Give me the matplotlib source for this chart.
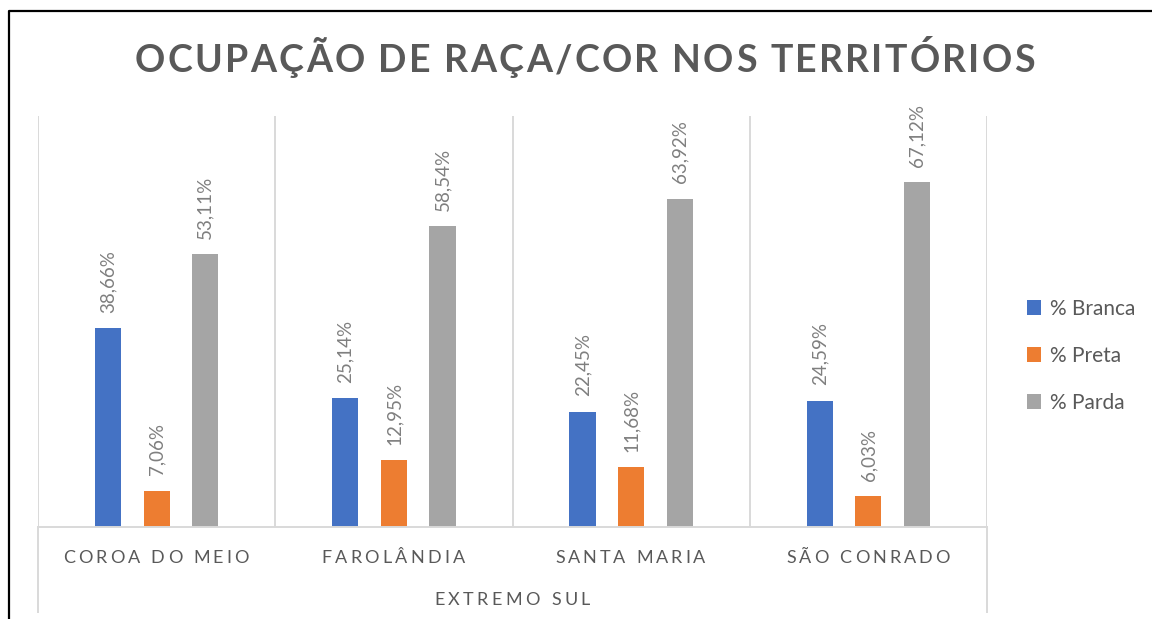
import numpy as np
import matplotlib.pyplot as plt
from matplotlib.lines import Line2D
from matplotlib.transforms import IdentityTransform

# dados do gráfico
categorias = ["COROA DO MEIO", "FAROLÂNDIA", "SANTA MARIA", "SÃO CONRADO"]
grupo = "EXTREMO SUL"
titulo = "OCUPAÇÃO DE RAÇA/COR NOS TERRITÓRIOS"
series = ["% Branca", "% Preta", "% Parda"]
branca = [38.66, 25.14, 22.45, 24.59]
preta = [7.06, 12.95, 11.68, 6.03]
parda = [53.11, 58.54, 63.92, 67.12]

cores = ["#4472C4", "#ED7D31", "#A5A5A5"]
cinza_texto = "#595959"
cinza_grade = "#D9D9D9"
fonte = "Lato"

W, H = 1152, 619
fig = plt.figure(figsize=(W / 100, H / 100), dpi=100)
ax = fig.add_axes([38 / W, (H - 527) / H, (987 - 38) / W, (527 - 116) / H])

x = np.arange(len(categorias))
largura = 0.11
deslocamentos = [-0.205, 0, 0.205]

for valores, nome, cor, dx in zip([branca, preta, parda], series, cores, deslocamentos):
    barras = ax.bar(x + dx, valores, width=largura, color=cor, label=nome, zorder=2)
    for b, v in zip(barras, valores):
        rotulo = f"{v:.2f}%".replace(".", ",")
        ax.annotate(rotulo, (b.get_x() + b.get_width() / 2, v), xytext=(0, 11),
                    textcoords="offset points", rotation=90, ha="center", va="bottom",
                    fontsize=13.5, color="#7F7F7F", family=fonte)

ax.set_xlim(-0.5, len(categorias) - 0.5)
ax.set_ylim(0, 80)
for xv in np.arange(-0.5, len(categorias), 1.0):
    ax.axvline(xv, color=cinza_grade, lw=1.4, zorder=1)
for s in ["top", "right", "left"]:
    ax.spines[s].set_visible(False)
ax.spines["bottom"].set_color(cinza_grade)
ax.spines["bottom"].set_linewidth(1.4)
ax.set_xticks([])
ax.set_yticks([])

# linhas externas que descem até o rótulo do grupo
for px in [38, 987]:
    fig.add_artist(Line2D([px, px], [H - 527, H - 612], transform=IdentityTransform(),
                          color=cinza_grade, lw=1.4))

# moldura parcial (esquerda e topo)
fig.add_artist(Line2D([8.5, 8.5, W], [0, H - 11, H - 11], transform=IdentityTransform(),
                      color="black", lw=1.6))

renderer = fig.canvas.get_renderer()


def largura_texto(s, **kw):
    t = fig.text(0, 0, s, transform=IdentityTransform(), **kw)
    w = t.get_window_extent(renderer).width
    t.remove()
    return w


def texto_espacado(s, cx, y_base, largura_alvo, **kw):
    # desenha letra por letra para imitar o espaçamento do Excel
    base = largura_texto("xx", **kw)
    ws = [largura_texto("x" + c + "x", **kw) - base for c in s]
    esp = (largura_alvo - sum(ws)) / (len(s) - 1)
    xp = cx - largura_alvo / 2
    for c, w in zip(s, ws):
        fig.text(xp, H - y_base, c, transform=IdentityTransform(), ha="left",
                 va="baseline", **kw)
        xp += w + esp


texto_espacado(titulo, 585, 72, 900, fontsize=27, fontweight="bold",
               color=cinza_texto, family=fonte)

larguras_cat = [186, 144, 150, 164]
centros = [156, 393, 630, 868]
for nome, cx, lw_ in zip(categorias, centros, larguras_cat):
    texto_espacado(nome, cx, 563, lw_, fontsize=13, color=cinza_texto, family=fonte)
texto_espacado(grupo, 512, 605, 156, fontsize=13, color=cinza_texto, family=fonte)

leg = ax.legend(loc="center left", bbox_to_anchor=(1008 / W, (H - 356) / H),
                bbox_transform=fig.transFigure, frameon=False, handlelength=0.7,
                handleheight=0.7, handletextpad=0.4, labelspacing=1.3,
                prop={"family": fonte, "size": 15})
for t in leg.get_texts():
    t.set_color(cinza_texto)

fig.savefig("out.png", dpi=100, facecolor="white")
